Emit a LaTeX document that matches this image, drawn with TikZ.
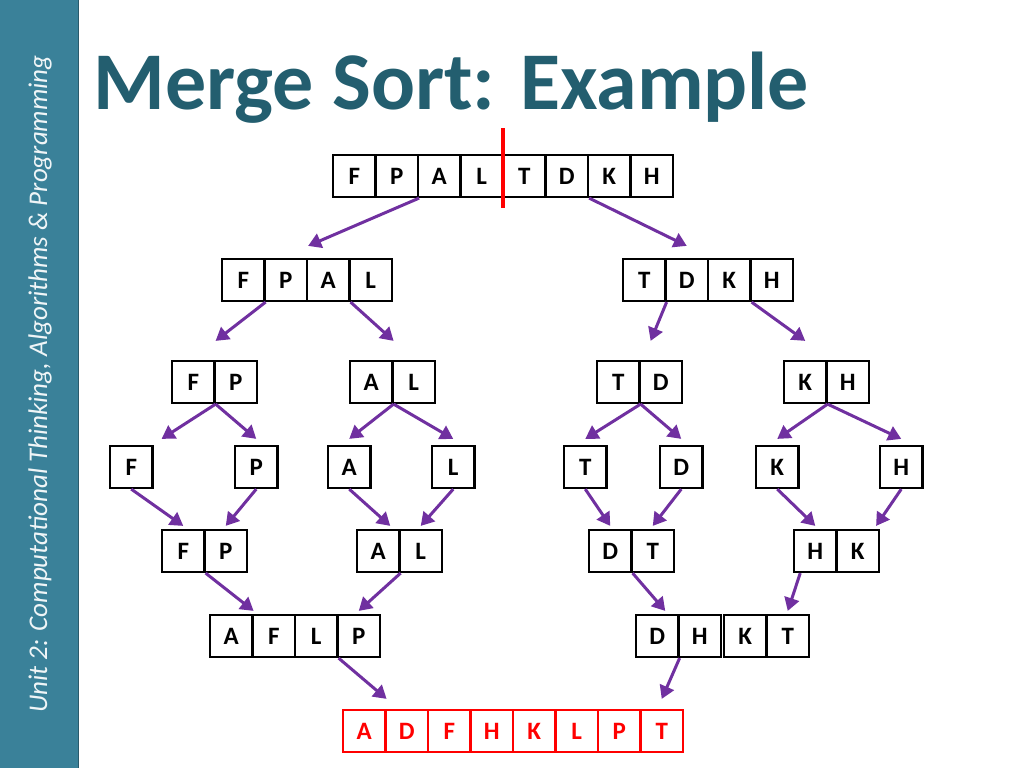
\documentclass[tikz,border=0pt]{standalone}
\usepackage{fontspec}
\setmainfont{Carlito}
\usetikzlibrary{arrows.meta}

\definecolor{sidebar}{HTML}{3A8199}
\definecolor{titleblue}{HTML}{235E6F}
\definecolor{arrowpurple}{HTML}{7030A0}

\tikzset{
  cell/.style={draw,line width=2.2pt,minimum width=42.5pt,minimum height=42pt,
               inner sep=0pt,font=\fontsize{25}{27}\selectfont\bfseries},
  arr/.style={draw=arrowpurple,line width=3pt,
              -{Triangle[length=13pt,width=15pt]}}
}

% row of cells: name, left x, centre y, letters, colour
\newcommand\cellrow[5]{%
  \foreach \l [count=\i] in {#4}
    \node[cell,draw=#5,text=#5] (#1-\i) at ({#2+\i*42.5-21.25},#3) {\l};}

\begin{document}
\begin{tikzpicture}[x=1pt,y=-1pt]
  \useasboundingbox (0,0) rectangle (1024,768);
  \fill[sidebar] (0,0) rectangle (78,768);
  \draw[sidebar!70!black,line width=1pt] (78,0) -- (78,768);
  \node[rotate=90,text=white!92!sidebar,font=\fontsize{27}{30}\selectfont\itshape]
    (unit) at (40,384) {Unit 2: Computational Thinking, Algorithms \& Programming};
  \node[anchor=west,text=titleblue,font=\fontsize{82}{88}\selectfont\bfseries]
    (title) at (90,88) {Merge Sort: Example};

  \cellrow{top}{333}{176}{F,P,A,L,T,D,K,H}{black}
  \cellrow{fpal}{222}{280}{F,P,A,L}{black}
  \cellrow{tdkh}{623}{280}{T,D,K,H}{black}
  \cellrow{fp}{172}{382}{F,P}{black}
  \cellrow{al}{350}{382}{A,L}{black}
  \cellrow{td}{597}{382}{T,D}{black}
  \cellrow{kh}{784}{382}{K,H}{black}
  \cellrow{f}{110}{467}{F}{black}
  \cellrow{p}{235}{467}{P}{black}
  \cellrow{a}{328}{467}{A}{black}
  \cellrow{l}{432}{467}{L}{black}
  \cellrow{t}{564}{467}{T}{black}
  \cellrow{d}{660}{467}{D}{black}
  \cellrow{k}{756}{467}{K}{black}
  \cellrow{h}{880}{467}{H}{black}
  \cellrow{fp2}{162}{551}{F,P}{black}
  \cellrow{al2}{357}{551}{A,L}{black}
  \cellrow{dt}{589}{551}{D,T}{black}
  \cellrow{hk}{794}{551}{H,K}{black}
  \cellrow{aflp}{210}{636}{A,F,L,P}{black}
  \cellrow{dh}{636}{636}{D,H}{black}
  \cellrow{kt}{724}{636}{K,T}{black}
  \cellrow{res}{343}{731}{A,D,F,H,K,L,P,T}{red}

  % split
  \draw[arr] (top-2.south east) -- ([yshift=12pt]fpal-2.north east);
  \draw[arr] (top-6.south east) -- ([yshift=12pt]tdkh-2.north);
  \draw[arr] (fpal-1.south east) -- ([yshift=19pt]fp-1.north east);
  \draw[arr] (fpal-3.south east) -- ([yshift=19pt]al-1.north east);
  \draw[arr] (tdkh-1.south east) -- ([xshift=10pt,yshift=19pt]td-1.north east);
  \draw[arr] (tdkh-3.south east) -- ([yshift=19pt]kh-1.north);
  \draw[arr] (fp-1.south east) -- ([xshift=8pt,yshift=6pt]f-1.north east);
  \draw[arr] (fp-1.south east) -- ([yshift=6pt]p-1.north);
  \draw[arr] (al-1.south east) -- ([yshift=6pt]a-1.north);
  \draw[arr] (al-1.south east) -- ([yshift=6pt]l-1.north);
  \draw[arr] (td-1.south east) -- ([yshift=6pt]t-1.north);
  \draw[arr] (td-1.south east) -- ([yshift=6pt]d-1.north);
  \draw[arr] (kh-1.south east) -- ([yshift=6pt]k-1.north);
  \draw[arr] (kh-1.south east) -- ([yshift=6pt]h-1.north);

  % merge
  \draw[arr] (f-1.south) -- ([yshift=3pt]fp2-1.north);
  \draw[arr] (p-1.south) -- ([yshift=3pt]fp2-2.north);
  \draw[arr] (a-1.south) -- ([xshift=12pt,yshift=3pt]al2-1.north);
  \draw[arr] (l-1.south) -- ([yshift=3pt]al2-2.north);
  \draw[arr] (t-1.south) -- ([yshift=3pt]dt-1.north);
  \draw[arr] (d-1.south) -- ([yshift=3pt]dt-2.north);
  \draw[arr] (k-1.south) -- ([yshift=3pt]hk-1.north);
  \draw[arr] (h-1.south) -- ([xshift=-4pt,yshift=3pt]hk-2.north east);
  \draw[arr] (fp2-1.south east) -- ([yshift=3pt]aflp-1.north east);
  \draw[arr] (al2-1.south east) -- ([yshift=3pt]aflp-4.north);
  \draw[arr] (dt-1.south east) -- ([xshift=8pt,yshift=3pt]dh-1.north);
  \draw[arr] ([xshift=-15pt]hk-1.south) -- ([yshift=3pt]kt-2.north);
  \draw[arr] (aflp-3.south east) -- ([yshift=10pt]res-1.north east);
  \draw[arr] (dh-1.south east) -- ([yshift=10pt]res-8.north);

  % split mark
  \draw[red,line width=3.6pt] (503,128) -- (503,208);
\end{tikzpicture}
\end{document}
